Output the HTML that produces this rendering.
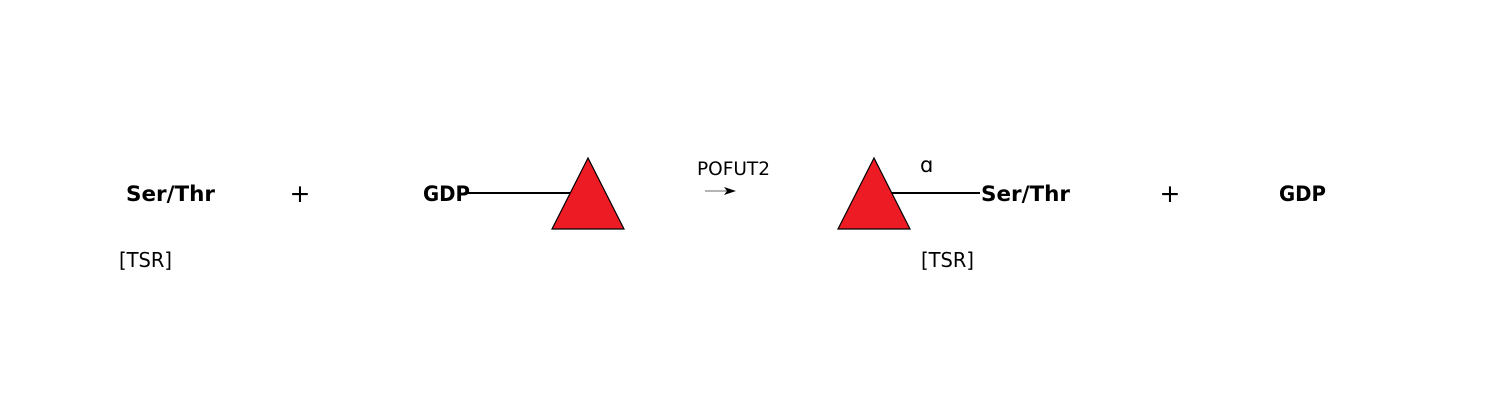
<!DOCTYPE html>
<html><head><meta charset="utf-8"><style>
html,body{margin:0;padding:0;background:#fff;}
svg{display:block;}
text{font-family:"DejaVu Sans","Liberation Sans",sans-serif;fill:#000;}
.b{font-weight:bold;font-size:21px;}
</style></head><body>
<svg width="1500" height="400" viewBox="0 0 1500 400">
<text class="b" x="126" y="201" textLength="89" lengthAdjust="spacingAndGlyphs">Ser/Thr</text>
<text x="119" y="267" font-size="20" textLength="53" lengthAdjust="spacingAndGlyphs">[TSR]</text>
<text x="300" y="202" font-size="25" text-anchor="middle">+</text>
<line x1="466" y1="193" x2="572" y2="193" stroke="#000" stroke-width="2"/>
<text class="b" x="423" y="201" textLength="47" lengthAdjust="spacingAndGlyphs">GDP</text>
<polygon points="588,158 552,229 624,229" fill="#ed1c24" stroke="#000" stroke-width="1.2"/>
<text x="697" y="175" font-size="19" textLength="73" lengthAdjust="spacingAndGlyphs">POFUT2</text>
<line x1="705" y1="191" x2="727" y2="191" stroke="#888" stroke-width="1.3"/>
<polygon points="736,191 724,187 727,191 724,195" fill="#000"/>
<line x1="892" y1="193" x2="980" y2="193" stroke="#000" stroke-width="2"/>
<polygon points="874,158 838,229 910,229" fill="#ed1c24" stroke="#000" stroke-width="1.2"/>
<text x="920" y="172" font-size="21">ɑ</text>
<text class="b" x="981" y="201" textLength="89" lengthAdjust="spacingAndGlyphs">Ser/Thr</text>
<text x="921" y="267" font-size="20" textLength="53" lengthAdjust="spacingAndGlyphs">[TSR]</text>
<text x="1170" y="202" font-size="25" text-anchor="middle">+</text>
<text class="b" x="1279" y="201" textLength="47" lengthAdjust="spacingAndGlyphs">GDP</text>
</svg>
</body></html>
